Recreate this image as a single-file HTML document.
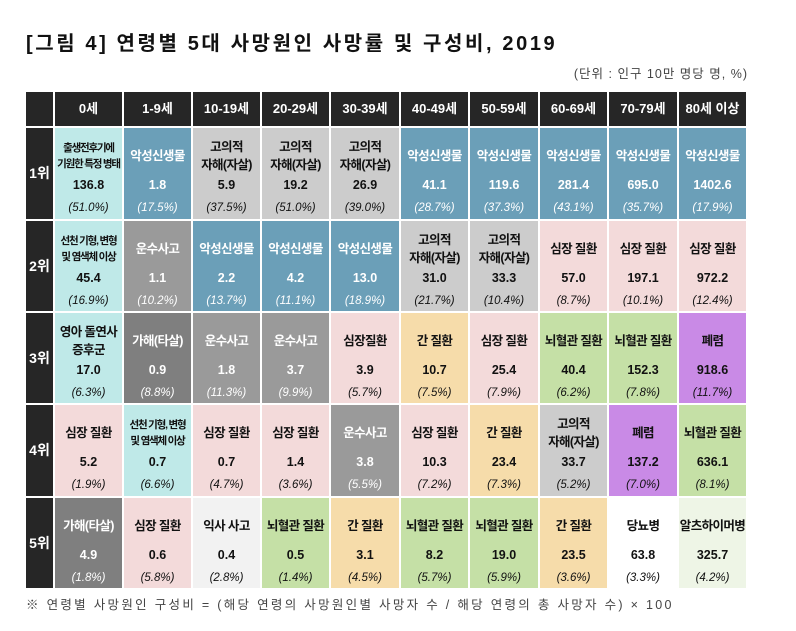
<!DOCTYPE html>
<html><head><meta charset="utf-8">
<style>
body{margin:0;background:#fff;width:796px;height:631px;overflow:hidden;position:relative;font-family:"Liberation Sans","Noto Sans CJK KR",sans-serif;}
.t{position:absolute;left:26px;top:27px;font-size:20px;font-weight:bold;color:#111;letter-spacing:2.6px;font-family:"Liberation Sans","Noto Sans CJK KR",sans-serif;white-space:nowrap;}
.u{position:absolute;right:48px;top:63px;font-size:12.5px;color:#444;letter-spacing:1px;}
.c{position:absolute;box-sizing:border-box;text-align:center;font-family:"Liberation Sans","Noto Sans CJK KR",sans-serif;font-weight:bold;color:#111;}
.h{background:#262626;color:#fff;font-size:13px;line-height:34px;}
.rl{background:#262626;color:#fff;font-size:14px;}
.nm{position:absolute;left:0;right:0;font-size:12.5px;letter-spacing:-0.6px;line-height:18px;white-space:nowrap;}
.sm{font-size:10.5px;line-height:16px;letter-spacing:-1.2px;}
.v{position:absolute;left:0;right:0;font-size:12.5px;}
.p{position:absolute;left:0;right:0;font-size:11.5px;font-style:italic;font-weight:normal;}
.w{color:#fff;}
.f{position:absolute;left:26px;top:594px;font-size:12.5px;color:#444;letter-spacing:2.3px;white-space:nowrap;}
</style></head><body>
<div class="t">[그림 4] 연령별 5대 사망원인 사망률 및 구성비, 2019</div>
<div class="u">(단위 : 인구 10만 명당 명, %)</div>
<div id="tbl"></div>
<div class="f">※ 연령별 사망원인 구성비 = (해당 연령의 사망원인별 사망자 수 / 해당 연령의 총 사망자 수) × 100</div>
<script>
const ages=["0세","1-9세","10-19세","20-29세","30-39세","40-49세","50-59세","60-69세","70-79세","80세 이상"];
const ranks=["1위","2위","3위","4위","5위"];
const causes=[
["출생전후기에|기원한 특정 병태","악성신생물","고의적|자해(자살)","고의적|자해(자살)","고의적|자해(자살)","악성신생물","악성신생물","악성신생물","악성신생물","악성신생물"],
["선천 기형, 변형|및 염색체 이상","운수사고","악성신생물","악성신생물","악성신생물","고의적|자해(자살)","고의적|자해(자살)","심장 질환","심장 질환","심장 질환"],
["영아 돌연사|증후군","가해(타살)","운수사고","운수사고","심장질환","간 질환","심장 질환","뇌혈관 질환","뇌혈관 질환","폐렴"],
["심장 질환","선천 기형, 변형|및 염색체 이상","심장 질환","심장 질환","운수사고","심장 질환","간 질환","고의적|자해(자살)","폐렴","뇌혈관 질환"],
["가해(타살)","심장 질환","익사 사고","뇌혈관 질환","간 질환","뇌혈관 질환","뇌혈관 질환","간 질환","당뇨병","알츠하이머병"]];
const rates=[
[136.8,1.8,5.9,19.2,26.9,41.1,119.6,281.4,695.0,1402.6],
[45.4,1.1,2.2,4.2,13.0,31.0,33.3,57.0,197.1,972.2],
[17.0,0.9,1.8,3.7,3.9,10.7,25.4,40.4,152.3,918.6],
[5.2,0.7,0.7,1.4,3.8,10.3,23.4,33.7,137.2,636.1],
[4.9,0.6,0.4,0.5,3.1,8.2,19.0,23.5,63.8,325.7]];
const shares=[
[51.0,17.5,37.5,51.0,39.0,28.7,37.3,43.1,35.7,17.9],
[16.9,10.2,13.7,11.1,18.9,21.7,10.4,8.7,10.1,12.4],
[6.3,8.8,11.3,9.9,5.7,7.5,7.9,6.2,7.8,11.7],
[1.9,6.6,4.7,3.6,5.5,7.2,7.3,5.2,7.0,8.1],
[1.8,5.8,2.8,1.4,4.5,5.7,5.9,3.6,3.3,4.2]];
const colorOf={"출생전후기에|기원한 특정 병태":["#bfe9e8",0],"선천 기형, 변형|및 염색체 이상":["#bfe9e8",0],"영아 돌연사|증후군":["#bfe9e8",0],
"악성신생물":["#6b9fb8",1],"고의적|자해(자살)":["#cccccc",0],"운수사고":["#9a9a9a",1],"가해(타살)":["#7f7f7f",1],
"심장 질환":["#f3dada",0],"심장질환":["#f3dada",0],"간 질환":["#f6dcaa",0],"뇌혈관 질환":["#c5e0a6",0],"폐렴":["#c98ae6",0],
"익사 사고":["#f2f2f2",0],"당뇨병":["#ffffff",0],"알츠하이머병":["#eef5e6",0]};
const colX=[55,124,193,262,331,401,470,540,609,679,748];
const rowY=[128,221,313,405,498,590];
const tbl=document.getElementById('tbl');
function mk(cls,l,t,w,h,bg){const d=document.createElement('div');d.className='c '+cls;d.style.left=l+'px';d.style.top=t+'px';d.style.width=w+'px';d.style.height=h+'px';if(bg)d.style.background=bg;tbl.appendChild(d);return d;}
const corner=mk('h',26,92,27,34);


ages.forEach((a,i)=>{const d=mk('h',colX[i],92,colX[i+1]-colX[i]-2,34);d.textContent=a;

});
ranks.forEach((r,j)=>{const y=rowY[j],h=rowY[j+1]-y-2;
const rl=mk('rl',26,y,27,h);rl.style.lineHeight=h+'px';rl.textContent=r;


ages.forEach((a,i)=>{const c=causes[j][i];const col=colorOf[c];
const d=mk(col[1]?'w':'',colX[i],y,colX[i+1]-colX[i]-2,h,col[0]);


const parts=c.split('|');const nm=document.createElement('div');
const small=c.length>12;
nm.className='nm'+(small?' sm':'');
nm.style.top=(parts.length>1?(small?12:10):19)+'px';
nm.innerHTML=parts.join('<br>');d.appendChild(nm);
const v=document.createElement('div');v.className='v';v.style.top='50px';v.textContent=rates[j][i].toFixed(1);d.appendChild(v);
const p=document.createElement('div');p.className='p';p.style.top='74px';p.textContent='('+shares[j][i].toFixed(1)+'%)';d.appendChild(p);
});});
</script>
</body></html>
